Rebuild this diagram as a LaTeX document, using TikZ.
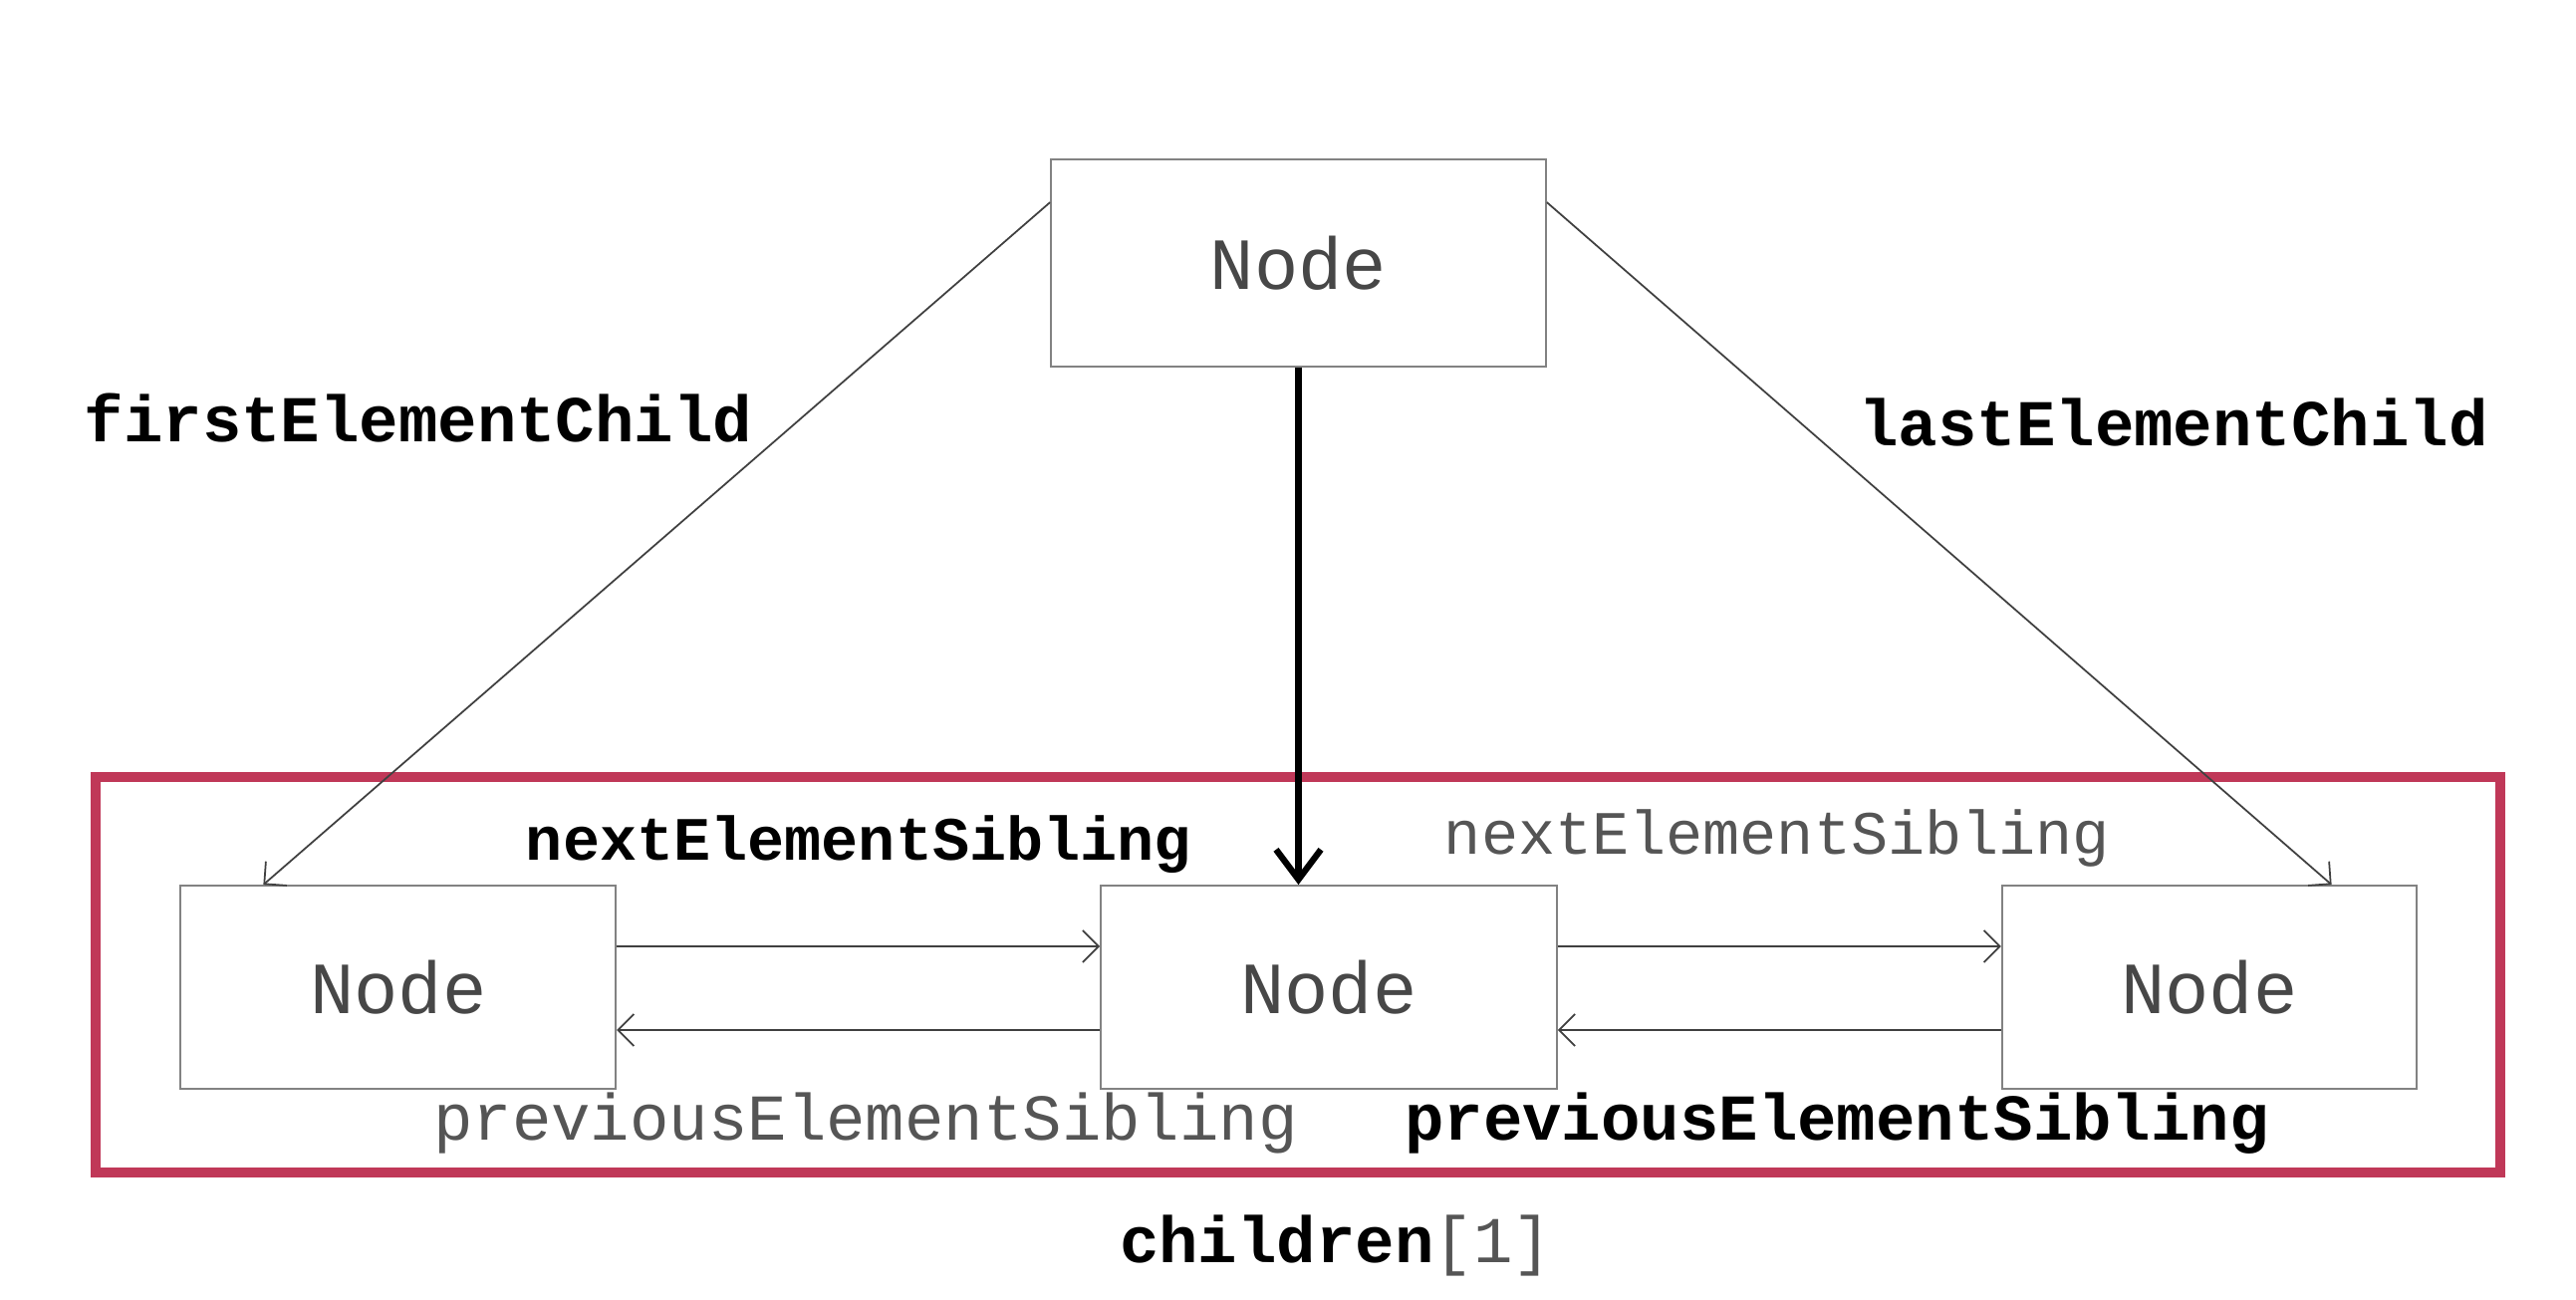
\documentclass[tikz,border=0pt]{standalone}
\usepackage{fontspec}
\newfontfamily\codefont{Liberation Mono}
\usetikzlibrary{positioning,calc,arrows.meta}
\definecolor{framered}{RGB}{192,56,88}
\definecolor{boxgray}{RGB}{130,130,130}
\definecolor{textgray}{RGB}{85,85,85}

\begin{document}
\begin{tikzpicture}[
				elem/.style={rectangle, draw=boxgray, line width=0.5pt, minimum height=2.04cm, font=\codefont\fontsize{21}{25}\selectfont, text=black!72},
				boldlabel/.style={rectangle, font=\codefont\bfseries\fontsize{18.7}{22}\selectfont, text=black},
				greylabel/.style={rectangle, font=\codefont\fontsize{18.7}{22}\selectfont, text=textgray},
				smallbold/.style={rectangle, font=\codefont\bfseries\fontsize{17.6}{21}\selectfont, text=black},
				smallgrey/.style={rectangle, font=\codefont\fontsize{17.6}{21}\selectfont, text=textgray},
				link/.style={draw=black!75, line width=0.5pt, -{Straight Barb[length=1.6mm, width=3.2mm]}},
				frame/.style={draw=framered, line width=2.8pt}
			]
			\useasboundingbox (0,0) rectangle (25.86,13.04);
			\node[elem, minimum width=4.97cm, minimum height=2.08cm] (parent) at (13.035,10.40) {Node};
			\node[elem, minimum width=4.58cm] (mid) at (13.34,3.13) {Node};
			\node[elem, minimum width=4.37cm] (first) [left=4.85cm of mid] {Node};
			\node[elem, minimum width=4.16cm] (last) [right=4.45cm of mid] {Node};
			\draw[frame] (0.96,1.27) rectangle (25.10,5.24);
			\node[boldlabel] (firstlabel) at (4.20,8.84) {firstElementChild};
			\node[boldlabel] (lastlabel) at (21.82,8.80) {lastElementChild};
			\node[smallbold] (nextone) at (8.62,4.56) {nextElementSibling};
			\node[smallgrey] (nexttwo) at (17.84,4.63) {nextElementSibling};
			\node[greylabel] (prevone) at (8.69,1.76) {previousElementSibling};
			\node[boldlabel] (prevtwo) at (18.44,1.76) {previousElementSibling};
			\node[boldlabel] (childrenlabel) at (13.41,0.54) {children\textcolor{textgray}{\mdseries[1]}};
			\draw[link] ([yshift=-0.44cm]parent.north west) -- ([xshift=0.84cm]first.north west);
			\draw[link] ([yshift=-0.44cm]parent.north east) -- ([xshift=-0.86cm]last.north east);
			\draw[black, line width=1.8pt, -{Straight Barb[length=3mm, width=4.5mm]}] (parent.south) -- (parent.south |- mid.north);
			\draw[link] ([yshift=0.41cm]first.east) -- ([yshift=0.41cm]mid.west);
			\draw[link] ([yshift=-0.43cm]mid.west) -- ([yshift=-0.43cm]first.east);
			\draw[link] ([yshift=0.41cm]mid.east) -- ([yshift=0.41cm]last.west);
			\draw[link] ([yshift=-0.43cm]last.west) -- ([yshift=-0.43cm]mid.east);
			\end{tikzpicture}
\end{document}
